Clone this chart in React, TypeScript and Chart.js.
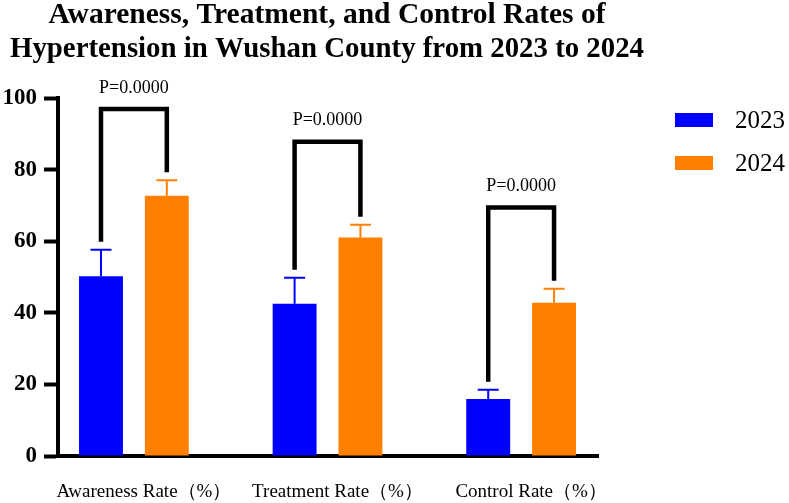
import React, { useEffect, useRef } from 'react';
import { Chart, registerables } from 'chart.js';

Chart.register(...registerables);

// ---- data ----
const titleLines = [
  'Awareness, Treatment, and Control Rates of',
  'Hypertension in Wushan County from 2023 to 2024',
];
const categories = ['Awareness Rate（%）', 'Treatment Rate（%）', 'Control Rate（%）'];
const seriesLabels = ['2023', '2024'];
const means2023 = [50.2, 42.5, 15.9];
const sd2023 = [7.4, 7.3, 2.6];
const means2024 = [72.7, 61.0, 42.8];
const sd2024 = [4.3, 3.6, 3.9];
const pLabels = ['P=0.0000', 'P=0.0000', 'P=0.0000'];
const bracketTops = [96.9, 87.8, 69.4];
const yTickValues = [0, 20, 40, 60, 80, 100];

const colors = ['#0000FF', '#FF8000'];
const serif = '"Liberation Serif", "Times New Roman", serif';

const annotPlugin = {
  id: 'annot',
  afterDatasetsDraw(chart: any) {
    const ctx = chart.ctx;
    const y = chart.scales.y;
    const sds = [sd2023, sd2024];
    const means = [means2023, means2024];
    ctx.save();
    // error bars
    for (let d = 0; d < 2; d++) {
      const meta = chart.getDatasetMeta(d);
      ctx.strokeStyle = colors[d];
      ctx.lineWidth = 2;
      meta.data.forEach((el: any, i: number) => {
        const top = y.getPixelForValue(means[d][i] + sds[d][i]);
        ctx.beginPath();
        ctx.moveTo(el.x, el.y);
        ctx.lineTo(el.x, top);
        ctx.moveTo(el.x - 10.5, top);
        ctx.lineTo(el.x + 10.5, top);
        ctx.stroke();
      });
    }
    // brackets
    const m0 = chart.getDatasetMeta(0);
    const m1 = chart.getDatasetMeta(1);
    ctx.strokeStyle = '#000';
    ctx.lineWidth = 4.5;
    ctx.lineJoin = 'miter';
    ctx.lineCap = 'butt';
    ctx.fillStyle = '#000';
    ctx.font = '18px ' + serif;
    ctx.textAlign = 'center';
    ctx.textBaseline = 'middle';
    categories.forEach((_, i) => {
      const xl = m0.data[i].x;
      const xr = m1.data[i].x;
      const yt = y.getPixelForValue(bracketTops[i]);
      const yl = y.getPixelForValue(means2023[i] + sd2023[i]) - 8;
      const yr = y.getPixelForValue(means2024[i] + sd2024[i]) - 8;
      ctx.beginPath();
      ctx.moveTo(xl, yl);
      ctx.lineTo(xl, yt);
      ctx.lineTo(xr, yt);
      ctx.lineTo(xr, yr);
      ctx.stroke();
      ctx.fillText(pLabels[i], (xl + xr) / 2, yt - 21);
    });
    ctx.restore();
  },
  afterDraw(chart: any) {
    const ctx = chart.ctx;
    const area = chart.chartArea;
    ctx.save();
    // title
    ctx.fillStyle = '#000';
    ctx.font = 'bold 30px ' + serif;
    ctx.textAlign = 'center';
    ctx.textBaseline = 'alphabetic';
    const cx = (area.left + area.right) / 2 - 1;
    ctx.fillText(titleLines[0], cx, 23, 557);
    ctx.fillText(titleLines[1], cx, 57, 634);
    // legend
    ctx.textAlign = 'left';
    ctx.textBaseline = 'middle';
    ctx.font = '25px ' + serif;
    chart.data.datasets.forEach((ds: any, i: number) => {
      const cy = 120 + i * 43;
      ctx.fillStyle = ds.backgroundColor;
      ctx.fillRect(675, cy - 7, 38, 14);
      ctx.fillStyle = '#000';
      ctx.fillText(ds.label, 735, cy + 1);
    });
    ctx.restore();
  },
};

export default function App() {
  const ref = useRef<HTMLCanvasElement>(null);
  useEffect(() => {
    document.body.style.margin = '0';
    document.body.style.overflow = 'hidden';
    const canvas = ref.current!;
    const chart = new Chart(canvas, {
      type: 'bar',
      data: {
        labels: categories,
        datasets: [
          {
            label: seriesLabels[0],
            data: means2023.map((v, i) => ({ x: i, y: v })),
            backgroundColor: colors[0],
            borderWidth: 0,
          },
          {
            label: seriesLabels[1],
            data: means2024.map((v, i) => ({ x: i, y: v })),
            backgroundColor: colors[1],
            borderWidth: 0,
          },
        ],
      },
      options: {
        animation: false,
        responsive: false,
        devicePixelRatio: 1,
        categoryPercentage: 0.68,
        barPercentage: 0.667,
        layout: { padding: { top: 98, right: 191, bottom: 0, left: 0 } },
        plugins: {
          legend: { display: false },
          title: { display: false },
          tooltip: { enabled: false },
        },
        scales: {
          x: {
            type: 'linear',
            offset: false,
            min: -0.392,
            max: 2.397,
            z: 1,
            grid: { display: false, drawTicks: false },
            border: { display: true, width: 4, color: '#000' },
            afterBuildTicks: (scale: any) => {
              scale.ticks = categories.map((_, i) => ({ value: i }));
            },
            afterFit: (scale: any) => {
              scale.height = 47;
            },
            ticks: {
              color: '#000',
              font: { family: serif, size: 19 },
              padding: 25,
              labelOffset: 10,
              maxRotation: 0,
              autoSkip: false,
              callback: (v: any) => categories[v as number],
            },
          },
          y: {
            type: 'linear',
            min: 0,
            max: 100,
            z: 1,
            afterBuildTicks: (scale: any) => {
              scale.ticks = yTickValues.map((v) => ({ value: v }));
            },
            afterFit: (scale: any) => {
              scale.width = 58;
            },
            grid: {
              drawOnChartArea: false,
              drawTicks: true,
              tickLength: 14,
              tickWidth: 4,
              tickColor: '#000',
            },
            border: { display: true, width: 4, color: '#000' },
            ticks: {
              color: '#000',
              font: { family: serif, size: 23, weight: 'bold' },
              padding: 7,
            },
          },
        },
      },
      plugins: [annotPlugin],
    } as any);
    return () => chart.destroy();
  }, []);
  return (
    <div style={{ width: 789, height: 503, position: 'relative' }}>
      <canvas ref={ref} width={789} height={503} style={{ display: 'block' }} />
    </div>
  );
}
